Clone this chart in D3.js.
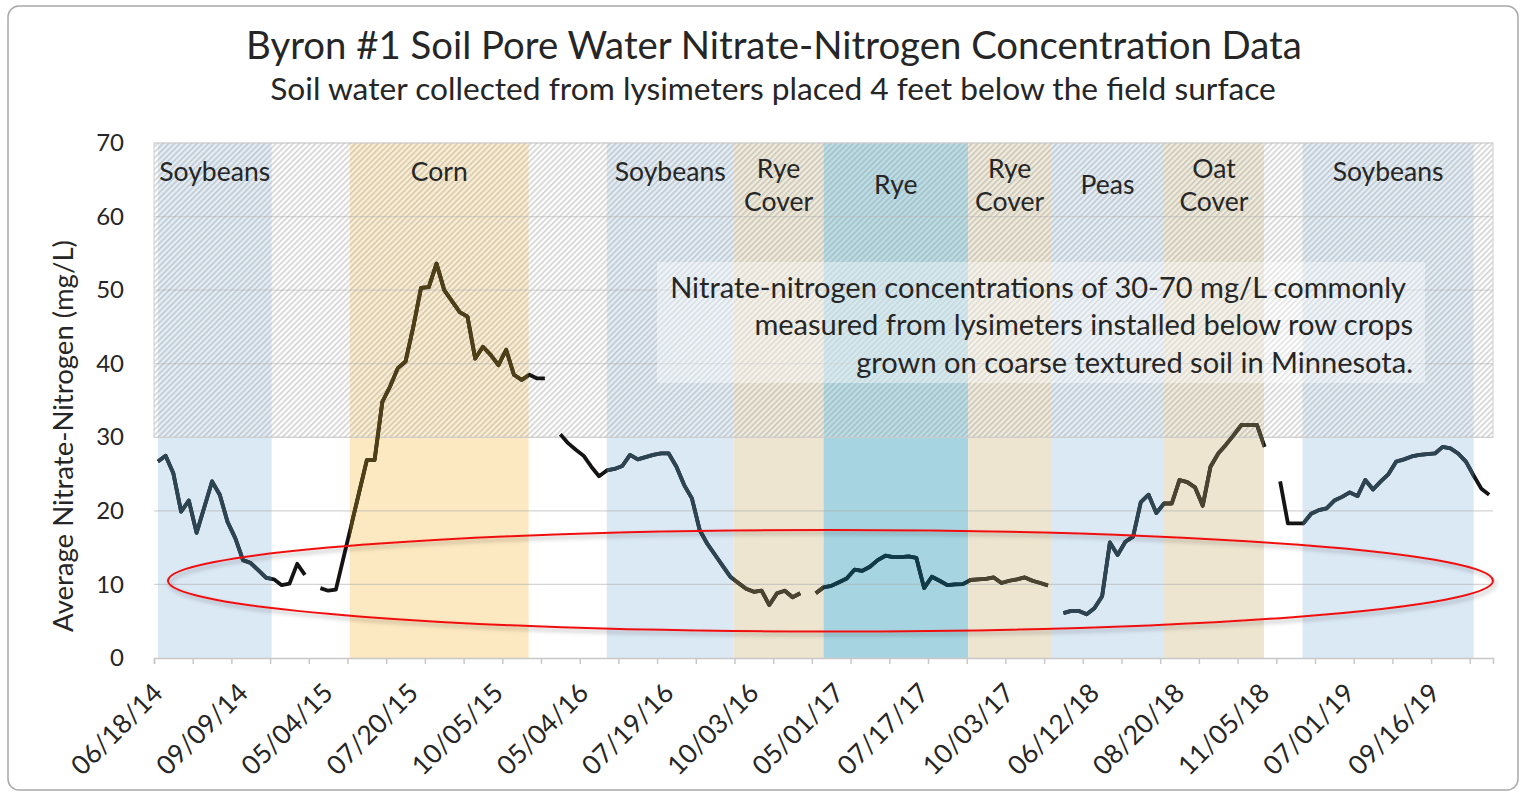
<!DOCTYPE html>
<html>
<head>
<meta charset="utf-8">
<script src="https://cdn.jsdelivr.net/npm/d3@7/dist/d3.min.js"></script>
<style>
body { margin: 0; background: #fff; }
svg text { font-family: Lato, "Open Sans", sans-serif; fill: #262626; }
</style>
</head>
<body>
<svg id="chart" width="1520" height="795"></svg>
<script>
// one value per sampling date (null = no sample / season break)
const nitrate = [
  26.7, 27.5, 25.1, 19.9, 21.4, 17.0, 20.5, 24.0, 22.2, 18.5,
  16.3, 13.3, 12.9, 11.9, 10.9, 10.7, 9.9, 10.1, 12.8, 11.3,
  null, 9.5, 9.15, 9.3, 13.7, 18.1, 22.5, 26.9, 26.9, 34.8,
  36.9, 39.4, 40.3, 45.0, 50.3, 50.4, 53.6, 50.0, 48.5, 47.0,
  46.4, 40.7, 42.3, 41.2, 39.8, 41.9, 38.5, 37.8, 38.5, 38.0,
  38.0, null, 30.4, 29.2, 28.3, 27.5, 26.0, 24.7, 25.5, 25.7,
  26.1, 27.6, 27.0, 27.3, 27.6, 27.8, 27.8, 26.0, 23.5, 21.7,
  17.4, 15.5, 14.0, 12.5, 11.0, 10.2, 9.4, 9.0, 9.15, 7.2,
  8.8, 9.15, 8.25, 8.8, null, 8.8, 9.6, 9.8, 10.3, 10.8,
  12.0, 11.85, 12.4, 13.3, 13.9, 13.7, 13.7, 13.8, 13.6, 9.5,
  11.05, 10.5, 9.9, 10.0, 10.05, 10.6, 10.7, 10.75, 10.95, 10.2,
  10.5, 10.7, 10.95, 10.5, 10.2, 9.85, null, 6.1, 6.4, 6.4,
  5.95, 6.75, 8.4, 15.7, 14.0, 15.8, 16.5, 21.2, 22.2, 19.7,
  21.0, 21.0, 24.2, 23.9, 23.2, 20.7, 26.0, 27.8, 29.0, 30.3,
  31.7, 31.7, 31.7, 28.7, null, 24.0, 18.3, 18.3, 18.3, 19.6,
  20.1, 20.35, 21.4, 21.9, 22.5, 22.0, 24.2, 22.9, 24.0, 25.0,
  26.7, 27.0, 27.4, 27.6, 27.7, 27.8, 28.7, 28.5, 27.8, 26.7,
  24.8, 23.0, 22.2
];
const dateLabels = ["06/18/14", "09/09/14", "05/04/15", "07/20/15", "10/05/15", "05/04/16",
  "07/19/16", "10/03/16", "05/01/17", "07/17/17", "10/03/17", "06/12/18",
  "08/20/18", "11/05/18", "07/01/19", "09/16/19"];
const labelEvery = 11;
const tickEvery = 5;

// crop seasons, in sample-index units
const crops = ["Soybeans", "Corn", "Soybeans", "Rye Cover", "Rye", "Rye Cover", "Peas", "Oat Cover", "Soybeans"];
const cropStart = [0, 24.8, 58, 74.4, 86, 104.7, 115.4, 130, 147.9];
const cropEnd = [14.7, 47.9, 74.4, 86, 104.7, 115.4, 130, 142.9, 170];

const yTicks = [0, 10, 20, 30, 40, 50, 60, 70];
const typicalRange = [30, 70];
const circledRange = [3.6, 17.4];

const note = ["Nitrate-nitrogen concentrations of 30-70 mg/L commonly",
  "measured from lysimeters installed below row crops",
  "grown on coarse textured soil in Minnesota."];

const fills = { "Soybeans": "#dbe9f5", "Corn": "#fde9c1", "Rye Cover": "#ede5d0", "Rye": "#a6d5e1", "Peas": "#dbe9f5", "Oat Cover": "#ede5d0" };
const strokes = { "Soybeans": "#2d4553", "Corn": "#4f3f17", "Rye Cover": "#4a4430", "Rye": "#0f3b49", "Peas": "#2d4553", "Oat Cover": "#4a4430" };

const svg = d3.select("#chart");
const pl = 154, pr = 1493, pt = 143, pb = 658;

const x = d3.scaleLinear().domain([0, nitrate.length]).range([pl, pr]);
const xc = i => x(i + 0.5); // centre of a sample's slot
const y = d3.scaleLinear().domain([0, 70]).range([pb, pt]);

function fit(sel, target) {
  const w = sel.node().getComputedTextLength();
  sel.attr("font-size", parseFloat(sel.attr("font-size")) * target / w);
  return parseFloat(sel.attr("font-size"));
}

// frame
svg.append("rect").attr("x", 8).attr("y", 6).attr("width", 1510).attr("height", 784)
  .attr("rx", 11).attr("fill", "#fff").attr("stroke", "#a9a9a9").attr("stroke-width", 1.5);

// titles
fit(svg.append("text").attr("x", 774).attr("y", 44).attr("text-anchor", "middle")
  .attr("dominant-baseline", "central").attr("font-size", 31)
  .text("Byron #1 Soil Pore Water Nitrate-Nitrogen Concentration Data"), 1056);
fit(svg.append("text").attr("x", 773).attr("y", 88).attr("text-anchor", "middle")
  .attr("dominant-baseline", "central").attr("font-size", 25)
  .text("Soil water collected from lysimeters placed 4 feet below the field surface"), 1006);

// crop bands
const defs = svg.append("defs");
const bands = crops.map((c, i) => ({ crop: c, x0: xc(cropStart[i]), x1: xc(cropEnd[i]) }));
svg.append("g").selectAll("rect").data(bands).join("rect")
  .attr("x", d => d.x0).attr("width", d => d.x1 - d.x0)
  .attr("y", pt).attr("height", pb - pt)
  .attr("fill", d => fills[d.crop]);

// grid
svg.append("g").selectAll("line").data(yTicks.slice(1)).join("line")
  .attr("x1", pl).attr("x2", pr).attr("y1", d => y(d)).attr("y2", d => y(d))
  .attr("stroke", "#b0b0b0").attr("stroke-opacity", 0.55).attr("stroke-width", 1.2);

// hatched typical range
const pat = defs.append("pattern").attr("id", "hatch").attr("patternUnits", "userSpaceOnUse")
  .attr("width", 4).attr("height", 4).attr("patternTransform", "rotate(45)");
pat.append("rect").attr("width", 4).attr("height", 4).attr("fill", "#ffffff").attr("fill-opacity", 0.22);
pat.append("line").attr("x1", 0.8).attr("x2", 0.8).attr("y1", 0).attr("y2", 4)
  .attr("stroke", "#8a8a8a").attr("stroke-opacity", 0.42).attr("stroke-width", 1.5);
svg.append("rect").attr("x", pl).attr("width", pr - pl)
  .attr("y", y(typicalRange[1])).attr("height", y(typicalRange[0]) - y(typicalRange[1]))
  .attr("fill", "url(#hatch)").attr("stroke", "#cfcfcf").attr("stroke-width", 1);

// note box
svg.append("rect").attr("x", 657).attr("y", 262).attr("width", 768).attr("height", 121)
  .attr("fill", "#fff").attr("fill-opacity", 0.38);
const n0 = svg.append("text").attr("x", 1406).attr("y", 286).attr("text-anchor", "end")
  .attr("dominant-baseline", "central").attr("font-size", 25).text(note[0]);
const nfs = fit(n0, 736);
[1, 2].forEach(k => svg.append("text").attr("x", 1413).attr("y", 286 + k * 37.5)
  .attr("text-anchor", "end").attr("dominant-baseline", "central").attr("font-size", nfs).text(note[k]));

// band labels
const bl = svg.append("g");
let bfs = 23;
bands.forEach((b, i) => {
  const cx = (b.x0 + b.x1) / 2;
  const words = b.crop.split(" ");
  const lines = words.length > 1 ? words : [b.crop];
  const cy = words.length > 1 ? [168, 201] : (b.crop === "Rye" || b.crop === "Peas" ? [184] : [171]);
  lines.forEach((w, j) => {
    const t = bl.append("text").attr("x", cx).attr("y", cy[j]).attr("text-anchor", "middle")
      .attr("dominant-baseline", "central").attr("font-size", bfs).text(w);
    if (i === 0) bfs = fit(t, 111);
  });
});

// line, black outside seasons, coloured inside each season
const line = d3.line().defined(d => d != null).x((d, i) => xc(i)).y(d => y(d));
svg.append("path").attr("d", line(nitrate)).attr("fill", "none")
  .attr("stroke", "#141414").attr("stroke-width", 3.8).attr("stroke-linejoin", "round");
bands.forEach((b, i) => {
  defs.append("clipPath").attr("id", "clip" + i).append("rect")
    .attr("x", b.x0).attr("width", b.x1 - b.x0).attr("y", 0).attr("height", 795);
  svg.append("path").attr("d", line(nitrate)).attr("fill", "none").attr("clip-path", `url(#clip${i})`)
    .attr("stroke", strokes[b.crop]).attr("stroke-width", 3.8).attr("stroke-linejoin", "round");
});

// axes
const yAxis = svg.append("g").attr("transform", `translate(${pl},0)`)
  .call(d3.axisLeft(y).tickValues(yTicks).tickSize(0).tickPadding(30));
yAxis.select(".domain").remove();
yAxis.selectAll("text").attr("font-size", 24).attr("fill", "#333");

const xAxis = svg.append("g").attr("transform", `translate(0,${pb})`)
  .call(d3.axisBottom(x).tickValues(d3.range(0, nitrate.length + 1, tickEvery)).tickSize(6).tickFormat(""));
xAxis.select(".domain").attr("stroke", "#c8c8c8").attr("stroke-width", 1.5);
xAxis.selectAll(".tick line").attr("stroke", "#c8c8c8").attr("stroke-width", 1.5);

svg.append("g").selectAll("text").data(dateLabels).join("text")
  .attr("transform", (d, k) => `translate(${xc(k * labelEvery)},${pb + 30}) rotate(-45)`)
  .attr("text-anchor", "end").attr("dy", "0.35em").attr("font-size", 26.5).attr("fill", "#333")
  .text(d => d);

// y title
fit(svg.append("text").attr("transform", "translate(62,436) rotate(-90)").attr("text-anchor", "middle")
  .attr("dominant-baseline", "central").attr("font-size", 22)
  .text("Average Nitrate-Nitrogen (mg/L)"), 392);

// circled low values
defs.append("filter").attr("id", "shadow").attr("x", -0.1).attr("y", -0.5).attr("width", 1.2).attr("height", 2)
  .append("feDropShadow").attr("dx", 2).attr("dy", 3).attr("stdDeviation", 2)
  .attr("flood-color", "#000").attr("flood-opacity", 0.3);
svg.append("ellipse")
  .attr("cx", (x(1.8) + pr) / 2).attr("rx", (pr - x(1.8)) / 2)
  .attr("cy", y(d3.mean(circledRange))).attr("ry", (y(circledRange[0]) - y(circledRange[1])) / 2)
  .attr("fill", "none").attr("stroke", "#f01010").attr("stroke-width", 2).attr("filter", "url(#shadow)");
</script>
</body>
</html>
